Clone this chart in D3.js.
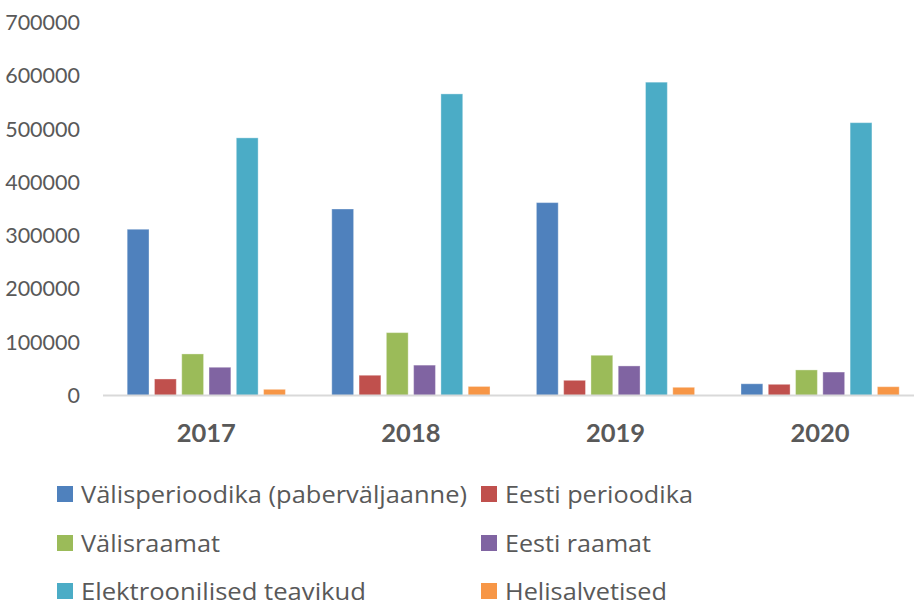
<!DOCTYPE html>
<html><head><meta charset="utf-8">
<script src="https://cdn.jsdelivr.net/npm/d3@7"></script>
<style>html,body{margin:0;padding:0;background:#fff;}svg{display:block;}</style>
</head><body>
<svg id="c" width="914" height="607"></svg>
<script>
const years = ["2017","2018","2019","2020"];
const seriesNames = ["Välisperioodika (paberväljaanne)","Eesti perioodika","Välisraamat","Eesti raamat","Elektroonilised teavikud","Helisalvetised"];
const valisperioodika = [312000, 350000, 362000, 22000];
const eestiPerioodika = [31000, 38000, 28500, 21000];
const valisraamat = [78000, 118000, 75500, 48000];
const eestiRaamat = [53000, 57000, 55500, 44000];
const elektroonilised = [483500, 566000, 588000, 512000];
const helisalvetised = [11600, 17000, 15400, 16500];
const yTicks = [0,100000,200000,300000,400000,500000,600000,700000];
const colors = ["#4F81BD","#C0504D","#9BBB59","#8064A2","#4BACC6","#F79646"];

const seriesValues = [valisperioodika, eestiPerioodika, valisraamat, eestiRaamat, elektroonilised, helisalvetised];
const svg = d3.select("#c");
const font = "Lato, 'Open Sans', sans-serif";
const legFont = "'Open Sans', Lato, sans-serif";
const txt = "#595959";
// target rendered widths of legend labels (layout)
const legWidths = [386, 188, 139, 146, 285, 162];

const y = d3.scaleLinear().domain([0,700000]).range([395.5,22.5]);
const x0 = d3.scaleBand().domain(years).range([104,922.4]).paddingInner(0.2).paddingOuter(0.1);
const x1 = d3.scaleBand().domain(d3.range(seriesNames.length)).range([0,x0.bandwidth()]).paddingInner(0.2).paddingOuter(0.1);

// y tick labels
svg.append("g").selectAll("text").data(yTicks).join("text")
  .attr("x",80).attr("y",d=>y(d)).attr("dy","0.35em")
  .attr("text-anchor","end").attr("font-family",font).attr("font-size",21.5)
  .attr("fill",txt).text(d=>d);

// bars
const g = svg.append("g");
years.forEach((yr,i)=>{
  seriesValues.forEach((vals,s)=>{
    g.append("rect")
      .attr("x",x0(yr)+x1(s)).attr("width",x1.bandwidth())
      .attr("y",y(vals[i])).attr("height",y(0)-y(vals[i]))
      .attr("fill",colors[s])
      .attr("stroke","#ffffff").attr("stroke-opacity",0.35).attr("stroke-width",1);
  });
});

// baseline
svg.append("line").attr("x1",103).attr("x2",914).attr("y1",y(0)).attr("y2",y(0))
  .attr("stroke","#D9D9D9").attr("stroke-width",2);

// category labels
svg.append("g").selectAll("text").data(years).join("text")
  .attr("x",d=>x0(d)+x0.bandwidth()/2).attr("y",442)
  .attr("text-anchor","middle").attr("font-family",font).attr("font-weight","bold")
  .attr("font-size",25.5).attr("fill",txt).text(d=>d);

// legend
const legX = [57,481];
const legY = [494,543,591];
seriesNames.forEach((name,s)=>{
  const cx = legX[s%2], cy = legY[Math.floor(s/2)];
  svg.append("rect").attr("x",cx).attr("y",cy-8).attr("width",16).attr("height",16).attr("fill",colors[s]);
  svg.append("text").attr("x",cx+24).attr("y",cy+8.5)
    .attr("font-family",legFont).attr("font-size",23).attr("fill",txt)
    .attr("textLength",legWidths[s]).attr("lengthAdjust","spacingAndGlyphs")
    .text(name);
});
</script>
</body></html>
